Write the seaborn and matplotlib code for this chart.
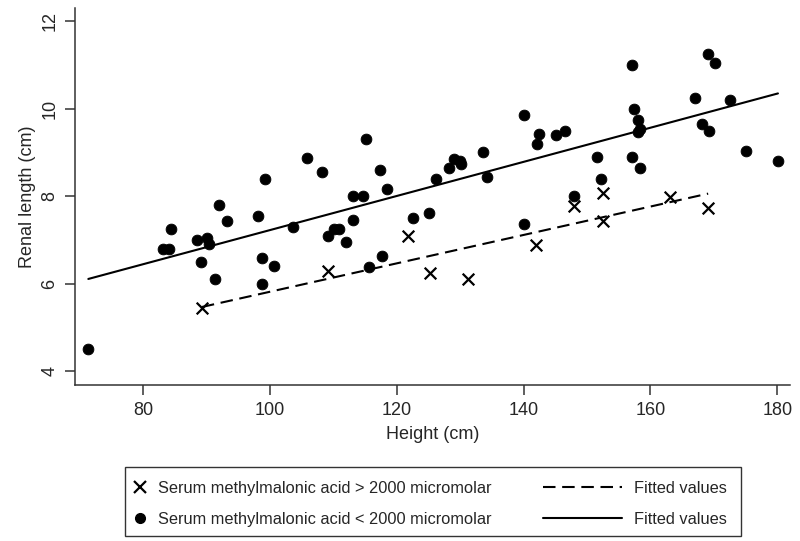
import numpy as np
import pandas as pd
import matplotlib
matplotlib.use("Agg")
import matplotlib.pyplot as plt
import seaborn as sns
from matplotlib.lines import Line2D
from matplotlib.patches import Rectangle

# Children with serum methylmalonic acid < 2000 micromolar
low_height = [71.4, 83.2, 84.1, 84.5, 88.5, 90.1, 90.4, 89.2, 91.3, 92.0,
              93.2, 98.1, 99.2, 98.7, 100.7, 98.7, 103.7, 105.8, 108.2, 109.1,
              110.1, 110.9, 112.0, 113.1, 113.1, 114.7, 115.1, 117.3, 118.4, 115.7,
              117.7, 122.6, 125.1, 126.2, 128.2, 129.0, 130.0, 130.2, 133.6, 134.2,
              140.0, 140.0, 142.5, 142.2, 145.1, 146.5, 148.0, 151.6, 152.2, 157.1,
              157.4, 158.0, 158.0, 158.4, 157.1, 158.4, 167.0, 169.1, 170.1, 172.6,
              168.1, 169.3, 175.1, 180.1]
low_renal = [4.50, 6.80, 6.80, 7.25, 6.99, 7.05, 6.90, 6.50, 6.10, 7.79,
             7.44, 7.55, 8.39, 6.59, 6.39, 6.00, 7.29, 8.87, 8.54, 7.09,
             7.25, 7.25, 6.95, 8.00, 7.45, 8.00, 9.30, 8.59, 8.16, 6.37,
             6.63, 7.49, 7.62, 8.40, 8.65, 8.85, 8.81, 8.73, 9.00, 8.44,
             9.85, 7.37, 9.42, 9.20, 9.39, 9.49, 8.00, 8.90, 8.39, 10.99,
             9.99, 9.74, 9.46, 9.54, 8.89, 8.65, 10.24, 11.25, 11.04, 10.19,
             9.65, 9.49, 9.04, 8.80]

# Children with serum methylmalonic acid > 2000 micromolar
high_height = [89.3, 109.1, 121.8, 125.3, 131.2, 142.0, 147.9, 152.5, 152.5, 163.1, 169.1]
high_renal = [5.43, 6.29, 7.09, 6.23, 6.10, 6.89, 7.78, 8.08, 7.44, 7.98, 7.73]

x_ticks = [80, 100, 120, 140, 160, 180]
y_ticks = [4, 6, 8, 10, 12]
group_labels = ["Serum methylmalonic acid > 2000 micromolar",
                "Serum methylmalonic acid < 2000 micromolar"]
fit_label = "Fitted values"

low_df = pd.DataFrame({"height": low_height, "renal": low_renal})
high_df = pd.DataFrame({"height": high_height, "renal": high_renal})

sns.set_style("white")
plt.rcParams["font.family"] = ["Liberation Sans", "DejaVu Sans"]

fig = plt.figure(figsize=(8, 5.41), dpi=100)
ax = fig.add_axes([75 / 800, 1 - 385 / 541, 715 / 800, 377 / 541])

#Scatter points
sns.scatterplot(data=high_df, x="height", y="renal", marker="x", s=70, color="black",
                linewidth=1.6, ax=ax, legend=False)
sns.scatterplot(data=low_df, x="height", y="renal", marker="o", s=60, color="black",
                edgecolor="black", ax=ax, legend=False)

#Fitted lines
dash = (0, (6, 3.2))
sns.regplot(data=high_df, x="height", y="renal", scatter=False, ci=None, color="black",
            line_kws={"linestyle": dash, "linewidth": 1.5}, ax=ax)
sns.regplot(data=low_df, x="height", y="renal", scatter=False, ci=None, color="black",
            line_kws={"linestyle": "-", "linewidth": 1.5}, ax=ax)

ax.set_xlim(69.3, 182)
ax.set_ylim(3.68, 12.3)
ax.set_xticks(x_ticks)
ax.set_yticks(y_ticks)
ax.set_xlabel("Height (cm)", fontsize=13, labelpad=5)
ax.set_ylabel("Renal length (cm)", fontsize=13)
ax.tick_params(axis="both", direction="out", length=7, width=1.1, color="#333333",
               labelsize=13, pad=5, bottom=True, left=True)
for lab in ax.get_yticklabels():
    lab.set_rotation(90)
    lab.set_va("center")

sns.despine(ax=ax)
for side in ["left", "bottom"]:
    ax.spines[side].set_color("#333333")
    ax.spines[side].set_linewidth(1.1)

#Legend below the plot: markers on the left, fitted lines on the right
marker_handles = [Line2D([], [], marker="x", linestyle="none", color="black", markersize=8, markeredgewidth=1.6),
                  Line2D([], [], marker="o", linestyle="none", color="black", markersize=7)]
line_handles = [Line2D([], [], color="black", linestyle=dash, linewidth=1.5),
                Line2D([], [], color="black", linestyle="-", linewidth=1.5)]

leg1 = fig.legend(marker_handles, group_labels, loc="center left",
                  bbox_to_anchor=(117 / 800, 1 - 504 / 541), frameon=False, fontsize=11.8,
                  handlelength=1.0, handletextpad=0.6, labelspacing=1.0)
leg2 = fig.legend(line_handles, [fit_label, fit_label], loc="center left",
                  bbox_to_anchor=(528 / 800, 1 - 504 / 541), frameon=False, fontsize=11.8,
                  handlelength=4.83, handletextpad=0.73, labelspacing=1.0)
fig.add_artist(Rectangle((125 / 800, 5 / 541), 616 / 800, 69 / 541, transform=fig.transFigure,
                         fill=False, edgecolor="#333333", linewidth=1.0))

fig.savefig("out.png", dpi=100)
